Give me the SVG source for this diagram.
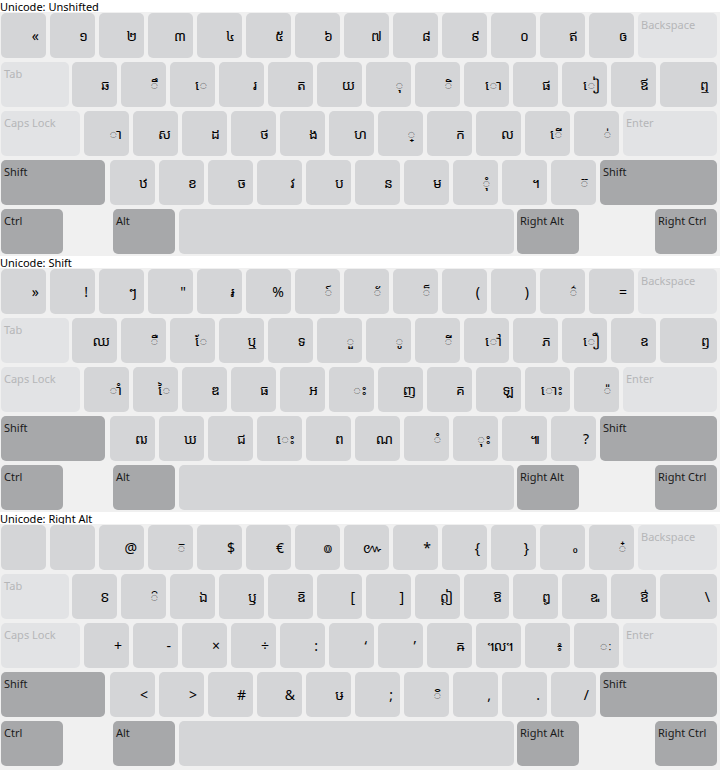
<svg xmlns="http://www.w3.org/2000/svg" width="720" height="770" viewBox="0 0 720 770">
<style>
.bg{fill:#f0f0f0}
.n{fill:#d4d5d7}
.s{fill:#e2e3e5}
.m{fill:#a7a8aa}
text{font-family:"Noto Sans","DejaVu Sans","Noto Sans Khmer","Khmer OS",sans-serif}
.t{font-size:11px;fill:#000}
.l{font-size:11px;fill:#b5b6b8}
.lm{font-size:11px;fill:#1a1a1a}
.g{font-size:14px;fill:#000;text-anchor:end}
</style>
<rect x="0" y="0" width="720" height="770" fill="#ffffff"/>

<g id="kb1">
<text class="t" x="0" y="11">Unicode: Unshifted</text>
<rect class="bg" x="0" y="12" width="720" height="244"/>
<g id="kb1-r0k0"><rect class="n" x="1" y="13" width="45" height="45" rx="5"/><text class="g" x="39" y="41">«</text></g>
<g id="kb1-r0k1"><rect class="n" x="50" y="13" width="45" height="45" rx="5"/><text class="g" x="88" y="41">១</text></g>
<g id="kb1-r0k2"><rect class="n" x="99" y="13" width="45" height="45" rx="5"/><text class="g" x="137" y="41">២</text></g>
<g id="kb1-r0k3"><rect class="n" x="148" y="13" width="45" height="45" rx="5"/><text class="g" x="186" y="41">៣</text></g>
<g id="kb1-r0k4"><rect class="n" x="197" y="13" width="45" height="45" rx="5"/><text class="g" x="235" y="41">៤</text></g>
<g id="kb1-r0k5"><rect class="n" x="246" y="13" width="45" height="45" rx="5"/><text class="g" x="284" y="41">៥</text></g>
<g id="kb1-r0k6"><rect class="n" x="295" y="13" width="45" height="45" rx="5"/><text class="g" x="333" y="41">៦</text></g>
<g id="kb1-r0k7"><rect class="n" x="344" y="13" width="45" height="45" rx="5"/><text class="g" x="382" y="41">៧</text></g>
<g id="kb1-r0k8"><rect class="n" x="393" y="13" width="45" height="45" rx="5"/><text class="g" x="431" y="41">៨</text></g>
<g id="kb1-r0k9"><rect class="n" x="442" y="13" width="45" height="45" rx="5"/><text class="g" x="480" y="41">៩</text></g>
<g id="kb1-r0k10"><rect class="n" x="491" y="13" width="45" height="45" rx="5"/><text class="g" x="529" y="41">០</text></g>
<g id="kb1-r0k11"><rect class="n" x="540" y="13" width="45" height="45" rx="5"/><text class="g" x="578" y="41">ឥ</text></g>
<g id="kb1-r0k12"><rect class="n" x="589" y="13" width="45" height="45" rx="5"/><text class="g" x="627" y="41">ឲ</text></g>
<g id="kb1-backspace"><rect class="s" x="638" y="13" width="79" height="45" rx="5"/><text class="l" x="641" y="29">Backspace</text></g>

<g id="kb1-tab"><rect class="s" x="1" y="62" width="68" height="45" rx="5"/><text class="l" x="4" y="78">Tab</text></g>
<g id="kb1-r1k0"><rect class="n" x="72" y="62" width="45" height="45" rx="5"/><text class="g" x="110" y="90">ឆ</text></g>
<g id="kb1-r1k1"><rect class="n" x="121" y="62" width="45" height="45" rx="5"/><text class="g" x="159" y="90">ឹ</text></g>
<g id="kb1-r1k2"><rect class="n" x="170" y="62" width="45" height="45" rx="5"/><text class="g" x="208" y="90">េ</text></g>
<g id="kb1-r1k3"><rect class="n" x="219" y="62" width="45" height="45" rx="5"/><text class="g" x="257" y="90">រ</text></g>
<g id="kb1-r1k4"><rect class="n" x="268" y="62" width="45" height="45" rx="5"/><text class="g" x="306" y="90">ត</text></g>
<g id="kb1-r1k5"><rect class="n" x="317" y="62" width="45" height="45" rx="5"/><text class="g" x="355" y="90">យ</text></g>
<g id="kb1-r1k6"><rect class="n" x="366" y="62" width="45" height="45" rx="5"/><text class="g" x="404" y="90">ុ</text></g>
<g id="kb1-r1k7"><rect class="n" x="415" y="62" width="45" height="45" rx="5"/><text class="g" x="453" y="90">ិ</text></g>
<g id="kb1-r1k8"><rect class="n" x="464" y="62" width="45" height="45" rx="5"/><text class="g" x="502" y="90">ោ</text></g>
<g id="kb1-r1k9"><rect class="n" x="513" y="62" width="45" height="45" rx="5"/><text class="g" x="551" y="90">ផ</text></g>
<g id="kb1-r1k10"><rect class="n" x="562" y="62" width="45" height="45" rx="5"/><text class="g" x="600" y="90">ៀ</text></g>
<g id="kb1-r1k11"><rect class="n" x="611" y="62" width="45" height="45" rx="5"/><text class="g" x="649" y="90">ឪ</text></g>
<g id="kb1-r1k12"><rect class="n" x="660" y="62" width="57" height="45" rx="5"/><text class="g" x="710" y="90">ឮ</text></g>

<g id="kb1-caps"><rect class="s" x="1" y="111" width="79" height="45" rx="5"/><text class="l" x="4" y="127">Caps Lock</text></g>
<g id="kb1-r2k0"><rect class="n" x="84" y="111" width="45" height="45" rx="5"/><text class="g" x="122" y="139">ា</text></g>
<g id="kb1-r2k1"><rect class="n" x="133" y="111" width="45" height="45" rx="5"/><text class="g" x="171" y="139">ស</text></g>
<g id="kb1-r2k2"><rect class="n" x="182" y="111" width="45" height="45" rx="5"/><text class="g" x="220" y="139">ដ</text></g>
<g id="kb1-r2k3"><rect class="n" x="231" y="111" width="45" height="45" rx="5"/><text class="g" x="269" y="139">ថ</text></g>
<g id="kb1-r2k4"><rect class="n" x="280" y="111" width="45" height="45" rx="5"/><text class="g" x="318" y="139">ង</text></g>
<g id="kb1-r2k5"><rect class="n" x="329" y="111" width="45" height="45" rx="5"/><text class="g" x="367" y="139">ហ</text></g>
<g id="kb1-r2k6"><rect class="n" x="378" y="111" width="45" height="45" rx="5"/><text class="g" x="416" y="139">្</text></g>
<g id="kb1-r2k7"><rect class="n" x="427" y="111" width="45" height="45" rx="5"/><text class="g" x="465" y="139">ក</text></g>
<g id="kb1-r2k8"><rect class="n" x="476" y="111" width="45" height="45" rx="5"/><text class="g" x="514" y="139">ល</text></g>
<g id="kb1-r2k9"><rect class="n" x="525" y="111" width="45" height="45" rx="5"/><text class="g" x="563" y="139">ើ</text></g>
<g id="kb1-r2k10"><rect class="n" x="574" y="111" width="45" height="45" rx="5"/><text class="g" x="612" y="139">់</text></g>
<g id="kb1-enter"><rect class="s" x="623" y="111" width="94" height="45" rx="5"/><text class="l" x="626" y="127">Enter</text></g>

<g id="kb1-lshift"><rect class="m" x="1" y="160" width="104" height="45" rx="5"/><text class="lm" x="4" y="176">Shift</text></g>
<g id="kb1-r3k0"><rect class="n" x="110" y="160" width="45" height="45" rx="5"/><text class="g" x="148" y="188">ឋ</text></g>
<g id="kb1-r3k1"><rect class="n" x="159" y="160" width="45" height="45" rx="5"/><text class="g" x="197" y="188">ខ</text></g>
<g id="kb1-r3k2"><rect class="n" x="208" y="160" width="45" height="45" rx="5"/><text class="g" x="246" y="188">ច</text></g>
<g id="kb1-r3k3"><rect class="n" x="257" y="160" width="45" height="45" rx="5"/><text class="g" x="295" y="188">វ</text></g>
<g id="kb1-r3k4"><rect class="n" x="306" y="160" width="45" height="45" rx="5"/><text class="g" x="344" y="188">ប</text></g>
<g id="kb1-r3k5"><rect class="n" x="355" y="160" width="45" height="45" rx="5"/><text class="g" x="393" y="188">ន</text></g>
<g id="kb1-r3k6"><rect class="n" x="404" y="160" width="45" height="45" rx="5"/><text class="g" x="442" y="188">ម</text></g>
<g id="kb1-r3k7"><rect class="n" x="453" y="160" width="45" height="45" rx="5"/><text class="g" x="491" y="188">ុំ</text></g>
<g id="kb1-r3k8"><rect class="n" x="502" y="160" width="45" height="45" rx="5"/><text class="g" x="540" y="188">។</text></g>
<g id="kb1-r3k9"><rect class="n" x="551" y="160" width="45" height="45" rx="5"/><text class="g" x="589" y="188">៊</text></g>
<g id="kb1-rshift"><rect class="m" x="600" y="160" width="117" height="45" rx="5"/><text class="lm" x="603" y="176">Shift</text></g>

<g id="kb1-ctrl"><rect class="m" x="1" y="209" width="62" height="45" rx="5"/><text class="lm" x="4" y="225">Ctrl</text></g>
<g id="kb1-alt"><rect class="m" x="113" y="209" width="62" height="45" rx="5"/><text class="lm" x="116" y="225">Alt</text></g>
<g id="kb1-space"><rect class="n" x="179" y="209" width="335" height="45" rx="5"/></g>
<g id="kb1-ralt"><rect class="m" x="517" y="209" width="62" height="45" rx="5"/><text class="lm" x="520" y="225">Right Alt</text></g>
<g id="kb1-rctrl"><rect class="m" x="655" y="209" width="62" height="45" rx="5"/><text class="lm" x="658" y="225">Right Ctrl</text></g>
</g>

<g id="kb2" transform="translate(0,256)">
<text class="t" x="0" y="11">Unicode: Shift</text>
<rect class="bg" x="0" y="12" width="720" height="244"/>
<g id="kb2-r0k0"><rect class="n" x="1" y="13" width="45" height="45" rx="5"/><text class="g" x="39" y="41">»</text></g>
<g id="kb2-r0k1"><rect class="n" x="50" y="13" width="45" height="45" rx="5"/><text class="g" x="88" y="41">!</text></g>
<g id="kb2-r0k2"><rect class="n" x="99" y="13" width="45" height="45" rx="5"/><text class="g" x="137" y="41">ៗ</text></g>
<g id="kb2-r0k3"><rect class="n" x="148" y="13" width="45" height="45" rx="5"/><text class="g" x="186" y="41">"</text></g>
<g id="kb2-r0k4"><rect class="n" x="197" y="13" width="45" height="45" rx="5"/><text class="g" x="235" y="41">៛</text></g>
<g id="kb2-r0k5"><rect class="n" x="246" y="13" width="45" height="45" rx="5"/><text class="g" x="284" y="41">%</text></g>
<g id="kb2-r0k6"><rect class="n" x="295" y="13" width="45" height="45" rx="5"/><text class="g" x="333" y="41">៍</text></g>
<g id="kb2-r0k7"><rect class="n" x="344" y="13" width="45" height="45" rx="5"/><text class="g" x="382" y="41">័</text></g>
<g id="kb2-r0k8"><rect class="n" x="393" y="13" width="45" height="45" rx="5"/><text class="g" x="431" y="41">៏</text></g>
<g id="kb2-r0k9"><rect class="n" x="442" y="13" width="45" height="45" rx="5"/><text class="g" x="480" y="41">(</text></g>
<g id="kb2-r0k10"><rect class="n" x="491" y="13" width="45" height="45" rx="5"/><text class="g" x="529" y="41">)</text></g>
<g id="kb2-r0k11"><rect class="n" x="540" y="13" width="45" height="45" rx="5"/><text class="g" x="578" y="41">៌</text></g>
<g id="kb2-r0k12"><rect class="n" x="589" y="13" width="45" height="45" rx="5"/><text class="g" x="627" y="41">=</text></g>
<g id="kb2-backspace"><rect class="s" x="638" y="13" width="79" height="45" rx="5"/><text class="l" x="641" y="29">Backspace</text></g>

<g id="kb2-tab"><rect class="s" x="1" y="62" width="68" height="45" rx="5"/><text class="l" x="4" y="78">Tab</text></g>
<g id="kb2-r1k0"><rect class="n" x="72" y="62" width="45" height="45" rx="5"/><text class="g" x="110" y="90">ឈ</text></g>
<g id="kb2-r1k1"><rect class="n" x="121" y="62" width="45" height="45" rx="5"/><text class="g" x="159" y="90">ឺ</text></g>
<g id="kb2-r1k2"><rect class="n" x="170" y="62" width="45" height="45" rx="5"/><text class="g" x="208" y="90">ែ</text></g>
<g id="kb2-r1k3"><rect class="n" x="219" y="62" width="45" height="45" rx="5"/><text class="g" x="257" y="90">ឬ</text></g>
<g id="kb2-r1k4"><rect class="n" x="268" y="62" width="45" height="45" rx="5"/><text class="g" x="306" y="90">ទ</text></g>
<g id="kb2-r1k5"><rect class="n" x="317" y="62" width="45" height="45" rx="5"/><text class="g" x="355" y="90">ួ</text></g>
<g id="kb2-r1k6"><rect class="n" x="366" y="62" width="45" height="45" rx="5"/><text class="g" x="404" y="90">ូ</text></g>
<g id="kb2-r1k7"><rect class="n" x="415" y="62" width="45" height="45" rx="5"/><text class="g" x="453" y="90">ី</text></g>
<g id="kb2-r1k8"><rect class="n" x="464" y="62" width="45" height="45" rx="5"/><text class="g" x="502" y="90">ៅ</text></g>
<g id="kb2-r1k9"><rect class="n" x="513" y="62" width="45" height="45" rx="5"/><text class="g" x="551" y="90">ភ</text></g>
<g id="kb2-r1k10"><rect class="n" x="562" y="62" width="45" height="45" rx="5"/><text class="g" x="600" y="90">ឿ</text></g>
<g id="kb2-r1k11"><rect class="n" x="611" y="62" width="45" height="45" rx="5"/><text class="g" x="649" y="90">ឧ</text></g>
<g id="kb2-r1k12"><rect class="n" x="660" y="62" width="57" height="45" rx="5"/><text class="g" x="710" y="90">ឭ</text></g>

<g id="kb2-caps"><rect class="s" x="1" y="111" width="79" height="45" rx="5"/><text class="l" x="4" y="127">Caps Lock</text></g>
<g id="kb2-r2k0"><rect class="n" x="84" y="111" width="45" height="45" rx="5"/><text class="g" x="122" y="139">ាំ</text></g>
<g id="kb2-r2k1"><rect class="n" x="133" y="111" width="45" height="45" rx="5"/><text class="g" x="171" y="139">ៃ</text></g>
<g id="kb2-r2k2"><rect class="n" x="182" y="111" width="45" height="45" rx="5"/><text class="g" x="220" y="139">ឌ</text></g>
<g id="kb2-r2k3"><rect class="n" x="231" y="111" width="45" height="45" rx="5"/><text class="g" x="269" y="139">ធ</text></g>
<g id="kb2-r2k4"><rect class="n" x="280" y="111" width="45" height="45" rx="5"/><text class="g" x="318" y="139">អ</text></g>
<g id="kb2-r2k5"><rect class="n" x="329" y="111" width="45" height="45" rx="5"/><text class="g" x="367" y="139">ះ</text></g>
<g id="kb2-r2k6"><rect class="n" x="378" y="111" width="45" height="45" rx="5"/><text class="g" x="416" y="139">ញ</text></g>
<g id="kb2-r2k7"><rect class="n" x="427" y="111" width="45" height="45" rx="5"/><text class="g" x="465" y="139">គ</text></g>
<g id="kb2-r2k8"><rect class="n" x="476" y="111" width="45" height="45" rx="5"/><text class="g" x="514" y="139">ឡ</text></g>
<g id="kb2-r2k9"><rect class="n" x="525" y="111" width="45" height="45" rx="5"/><text class="g" x="563" y="139">ោះ</text></g>
<g id="kb2-r2k10"><rect class="n" x="574" y="111" width="45" height="45" rx="5"/><text class="g" x="612" y="139">៉</text></g>
<g id="kb2-enter"><rect class="s" x="623" y="111" width="94" height="45" rx="5"/><text class="l" x="626" y="127">Enter</text></g>

<g id="kb2-lshift"><rect class="m" x="1" y="160" width="104" height="45" rx="5"/><text class="lm" x="4" y="176">Shift</text></g>
<g id="kb2-r3k0"><rect class="n" x="110" y="160" width="45" height="45" rx="5"/><text class="g" x="148" y="188">ឍ</text></g>
<g id="kb2-r3k1"><rect class="n" x="159" y="160" width="45" height="45" rx="5"/><text class="g" x="197" y="188">ឃ</text></g>
<g id="kb2-r3k2"><rect class="n" x="208" y="160" width="45" height="45" rx="5"/><text class="g" x="246" y="188">ជ</text></g>
<g id="kb2-r3k3"><rect class="n" x="257" y="160" width="45" height="45" rx="5"/><text class="g" x="295" y="188">េះ</text></g>
<g id="kb2-r3k4"><rect class="n" x="306" y="160" width="45" height="45" rx="5"/><text class="g" x="344" y="188">ព</text></g>
<g id="kb2-r3k5"><rect class="n" x="355" y="160" width="45" height="45" rx="5"/><text class="g" x="393" y="188">ណ</text></g>
<g id="kb2-r3k6"><rect class="n" x="404" y="160" width="45" height="45" rx="5"/><text class="g" x="442" y="188">ំ</text></g>
<g id="kb2-r3k7"><rect class="n" x="453" y="160" width="45" height="45" rx="5"/><text class="g" x="491" y="188">ុះ</text></g>
<g id="kb2-r3k8"><rect class="n" x="502" y="160" width="45" height="45" rx="5"/><text class="g" x="540" y="188">៕</text></g>
<g id="kb2-r3k9"><rect class="n" x="551" y="160" width="45" height="45" rx="5"/><text class="g" x="589" y="188">?</text></g>
<g id="kb2-rshift"><rect class="m" x="600" y="160" width="117" height="45" rx="5"/><text class="lm" x="603" y="176">Shift</text></g>

<g id="kb2-ctrl"><rect class="m" x="1" y="209" width="62" height="45" rx="5"/><text class="lm" x="4" y="225">Ctrl</text></g>
<g id="kb2-alt"><rect class="m" x="113" y="209" width="62" height="45" rx="5"/><text class="lm" x="116" y="225">Alt</text></g>
<g id="kb2-space"><rect class="n" x="179" y="209" width="335" height="45" rx="5"/></g>
<g id="kb2-ralt"><rect class="m" x="517" y="209" width="62" height="45" rx="5"/><text class="lm" x="520" y="225">Right Alt</text></g>
<g id="kb2-rctrl"><rect class="m" x="655" y="209" width="62" height="45" rx="5"/><text class="lm" x="658" y="225">Right Ctrl</text></g>
</g>

<g id="kb3" transform="translate(0,512)">
<text class="t" x="0" y="11">Unicode: Right Alt</text>
<rect class="bg" x="0" y="12" width="720" height="246"/>
<g id="kb3-r0k0"><rect class="n" x="1" y="13" width="45" height="45" rx="5"/></g>
<g id="kb3-r0k1"><rect class="n" x="50" y="13" width="45" height="45" rx="5"/></g>
<g id="kb3-r0k2"><rect class="n" x="99" y="13" width="45" height="45" rx="5"/><text class="g" x="137" y="41">@</text></g>
<g id="kb3-r0k3"><rect class="n" x="148" y="13" width="45" height="45" rx="5"/><text class="g" x="186" y="41">៑</text></g>
<g id="kb3-r0k4"><rect class="n" x="197" y="13" width="45" height="45" rx="5"/><text class="g" x="235" y="41">$</text></g>
<g id="kb3-r0k5"><rect class="n" x="246" y="13" width="45" height="45" rx="5"/><text class="g" x="284" y="41">€</text></g>
<g id="kb3-r0k6"><rect class="n" x="295" y="13" width="45" height="45" rx="5"/><text class="g" x="333" y="41">៙</text></g>
<g id="kb3-r0k7"><rect class="n" x="344" y="13" width="45" height="45" rx="5"/><text class="g" x="382" y="41">៚</text></g>
<g id="kb3-r0k8"><rect class="n" x="393" y="13" width="45" height="45" rx="5"/><text class="g" x="431" y="41">*</text></g>
<g id="kb3-r0k9"><rect class="n" x="442" y="13" width="45" height="45" rx="5"/><text class="g" x="480" y="41">{</text></g>
<g id="kb3-r0k10"><rect class="n" x="491" y="13" width="45" height="45" rx="5"/><text class="g" x="529" y="41">}</text></g>
<g id="kb3-r0k11"><rect class="n" x="540" y="13" width="45" height="45" rx="5"/><text class="g" x="578" y="41">៰</text></g>
<g id="kb3-r0k12"><rect class="n" x="589" y="13" width="45" height="45" rx="5"/><text class="g" x="627" y="41">៎</text></g>
<g id="kb3-backspace"><rect class="s" x="638" y="13" width="79" height="45" rx="5"/><text class="l" x="641" y="29">Backspace</text></g>

<g id="kb3-tab"><rect class="s" x="1" y="62" width="68" height="45" rx="5"/><text class="l" x="4" y="78">Tab</text></g>
<g id="kb3-r1k0"><rect class="n" x="72" y="62" width="45" height="45" rx="5"/><text class="g" x="110" y="90">ៜ</text></g>
<g id="kb3-r1k1"><rect class="n" x="121" y="62" width="45" height="45" rx="5"/><text class="g" x="159" y="90">៝</text></g>
<g id="kb3-r1k2"><rect class="n" x="170" y="62" width="45" height="45" rx="5"/><text class="g" x="208" y="90">ឯ</text></g>
<g id="kb3-r1k3"><rect class="n" x="219" y="62" width="45" height="45" rx="5"/><text class="g" x="257" y="90">ឫ</text></g>
<g id="kb3-r1k4"><rect class="n" x="268" y="62" width="45" height="45" rx="5"/><text class="g" x="306" y="90">ឨ</text></g>
<g id="kb3-r1k5"><rect class="n" x="317" y="62" width="45" height="45" rx="5"/><text class="g" x="355" y="90">[</text></g>
<g id="kb3-r1k6"><rect class="n" x="366" y="62" width="45" height="45" rx="5"/><text class="g" x="404" y="90">]</text></g>
<g id="kb3-r1k7"><rect class="n" x="415" y="62" width="45" height="45" rx="5"/><text class="g" x="453" y="90">ឦ</text></g>
<g id="kb3-r1k8"><rect class="n" x="464" y="62" width="45" height="45" rx="5"/><text class="g" x="502" y="90">ឱ</text></g>
<g id="kb3-r1k9"><rect class="n" x="513" y="62" width="45" height="45" rx="5"/><text class="g" x="551" y="90">ឰ</text></g>
<g id="kb3-r1k10"><rect class="n" x="562" y="62" width="45" height="45" rx="5"/><text class="g" x="600" y="90">ឩ</text></g>
<g id="kb3-r1k11"><rect class="n" x="611" y="62" width="45" height="45" rx="5"/><text class="g" x="649" y="90">ឳ</text></g>
<g id="kb3-r1k12"><rect class="n" x="660" y="62" width="57" height="45" rx="5"/><text class="g" x="710" y="90">\</text></g>

<g id="kb3-caps"><rect class="s" x="1" y="111" width="79" height="45" rx="5"/><text class="l" x="4" y="127">Caps Lock</text></g>
<g id="kb3-r2k0"><rect class="n" x="84" y="111" width="45" height="45" rx="5"/><text class="g" x="122" y="139">+</text></g>
<g id="kb3-r2k1"><rect class="n" x="133" y="111" width="45" height="45" rx="5"/><text class="g" x="171" y="139">-</text></g>
<g id="kb3-r2k2"><rect class="n" x="182" y="111" width="45" height="45" rx="5"/><text class="g" x="220" y="139">×</text></g>
<g id="kb3-r2k3"><rect class="n" x="231" y="111" width="45" height="45" rx="5"/><text class="g" x="269" y="139">÷</text></g>
<g id="kb3-r2k4"><rect class="n" x="280" y="111" width="45" height="45" rx="5"/><text class="g" x="318" y="139">:</text></g>
<g id="kb3-r2k5"><rect class="n" x="329" y="111" width="45" height="45" rx="5"/><text class="g" x="367" y="139">‘</text></g>
<g id="kb3-r2k6"><rect class="n" x="378" y="111" width="45" height="45" rx="5"/><text class="g" x="416" y="139">’</text></g>
<g id="kb3-r2k7"><rect class="n" x="427" y="111" width="45" height="45" rx="5"/><text class="g" x="465" y="139">ឝ</text></g>
<g id="kb3-r2k8"><rect class="n" x="476" y="111" width="45" height="45" rx="5"/><text class="g" x="514" y="139">៘</text></g>
<g id="kb3-r2k9"><rect class="n" x="525" y="111" width="45" height="45" rx="5"/><text class="g" x="563" y="139">៖</text></g>
<g id="kb3-r2k10"><rect class="n" x="574" y="111" width="45" height="45" rx="5"/><text class="g" x="612" y="139">ៈ</text></g>
<g id="kb3-enter"><rect class="s" x="623" y="111" width="94" height="45" rx="5"/><text class="l" x="626" y="127">Enter</text></g>

<g id="kb3-lshift"><rect class="m" x="1" y="160" width="104" height="45" rx="5"/><text class="lm" x="4" y="176">Shift</text></g>
<g id="kb3-r3k0"><rect class="n" x="110" y="160" width="45" height="45" rx="5"/><text class="g" x="148" y="188">&lt;</text></g>
<g id="kb3-r3k1"><rect class="n" x="159" y="160" width="45" height="45" rx="5"/><text class="g" x="197" y="188">&gt;</text></g>
<g id="kb3-r3k2"><rect class="n" x="208" y="160" width="45" height="45" rx="5"/><text class="g" x="246" y="188">#</text></g>
<g id="kb3-r3k3"><rect class="n" x="257" y="160" width="45" height="45" rx="5"/><text class="g" x="295" y="188">&amp;</text></g>
<g id="kb3-r3k4"><rect class="n" x="306" y="160" width="45" height="45" rx="5"/><text class="g" x="344" y="188">ឞ</text></g>
<g id="kb3-r3k5"><rect class="n" x="355" y="160" width="45" height="45" rx="5"/><text class="g" x="393" y="188">;</text></g>
<g id="kb3-r3k6"><rect class="n" x="404" y="160" width="45" height="45" rx="5"/><text class="g" x="442" y="188">៓</text></g>
<g id="kb3-r3k7"><rect class="n" x="453" y="160" width="45" height="45" rx="5"/><text class="g" x="491" y="188">,</text></g>
<g id="kb3-r3k8"><rect class="n" x="502" y="160" width="45" height="45" rx="5"/><text class="g" x="540" y="188">.</text></g>
<g id="kb3-r3k9"><rect class="n" x="551" y="160" width="45" height="45" rx="5"/><text class="g" x="589" y="188">/</text></g>
<g id="kb3-rshift"><rect class="m" x="600" y="160" width="117" height="45" rx="5"/><text class="lm" x="603" y="176">Shift</text></g>

<g id="kb3-ctrl"><rect class="m" x="1" y="209" width="62" height="45" rx="5"/><text class="lm" x="4" y="225">Ctrl</text></g>
<g id="kb3-alt"><rect class="m" x="113" y="209" width="62" height="45" rx="5"/><text class="lm" x="116" y="225">Alt</text></g>
<g id="kb3-space"><rect class="n" x="179" y="209" width="335" height="45" rx="5"/></g>
<g id="kb3-ralt"><rect class="m" x="517" y="209" width="62" height="45" rx="5"/><text class="lm" x="520" y="225">Right Alt</text></g>
<g id="kb3-rctrl"><rect class="m" x="655" y="209" width="62" height="45" rx="5"/><text class="lm" x="658" y="225">Right Ctrl</text></g>
</g>
</svg>
